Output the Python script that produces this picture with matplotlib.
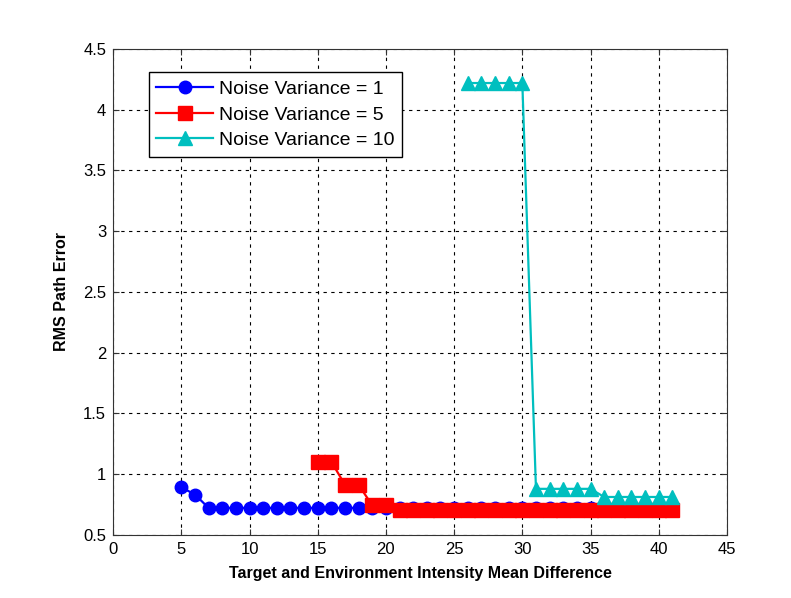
import numpy as np
import matplotlib
matplotlib.use("Agg")
import matplotlib.pyplot as plt

# data
x_var1 = list(range(5, 42))
y_var1 = [0.89, 0.83] + [0.72] * 35

x_var5 = list(range(15, 42))
y_var5 = [1.10, 1.10, 0.91, 0.91, 0.74, 0.74] + [0.70] * 21

x_var10 = list(range(26, 42))
y_var10 = [4.22] * 5 + [0.877] * 5 + [0.81] * 6

labels = ["Noise Variance = 1", "Noise Variance = 5", "Noise Variance = 10"]

plt.rcParams['font.family'] = ['Liberation Sans', 'DejaVu Sans']

fig = plt.figure(figsize=(7.91, 5.98), dpi=100)
ax = fig.add_axes([0.143, 0.106, 0.776, 0.812])

ax.plot(x_var1, y_var1, '-o', color='#0000ff', lw=1.6, ms=9, label=labels[0])
ax.plot(x_var5, y_var5, '-s', color='#ff0000', lw=1.6, ms=10, label=labels[1])
ax.plot(x_var10, y_var10, '-^', color='#00bfbf', lw=1.6, ms=9.5, label=labels[2])

ax.set_xlim(0, 45)
ax.set_ylim(0.5, 4.5)
ax.set_xticks(np.arange(0, 46, 5))
ax.set_yticks(np.arange(0.5, 4.6, 0.5))
ax.set_yticklabels(["0.5", "1", "1.5", "2", "2.5", "3", "3.5", "4", "4.5"])
ax.tick_params(direction='in', top=True, right=True, labelsize=12, length=4,
               color='#333333', pad=5)
ax.grid(True, color='black', linestyle=(0, (3, 4)), linewidth=0.8)
for s in ax.spines.values():
    s.set_color('#333333')

ax.set_xlabel("Target and Environment Intensity Mean Difference", fontsize=11.5,
              fontweight='bold', labelpad=7)
ax.set_ylabel("RMS Path Error", fontsize=11.5, fontweight='bold', labelpad=10)

leg = ax.legend(loc='upper left', bbox_to_anchor=(0.058, 0.952), fontsize=14, fancybox=False,
                edgecolor='black', framealpha=1, handlelength=2.9, handletextpad=0.3,
                borderpad=0.4, labelspacing=0.42, borderaxespad=0)
leg.get_frame().set_linewidth(1.0)

fig.savefig("out.png", dpi=100)
